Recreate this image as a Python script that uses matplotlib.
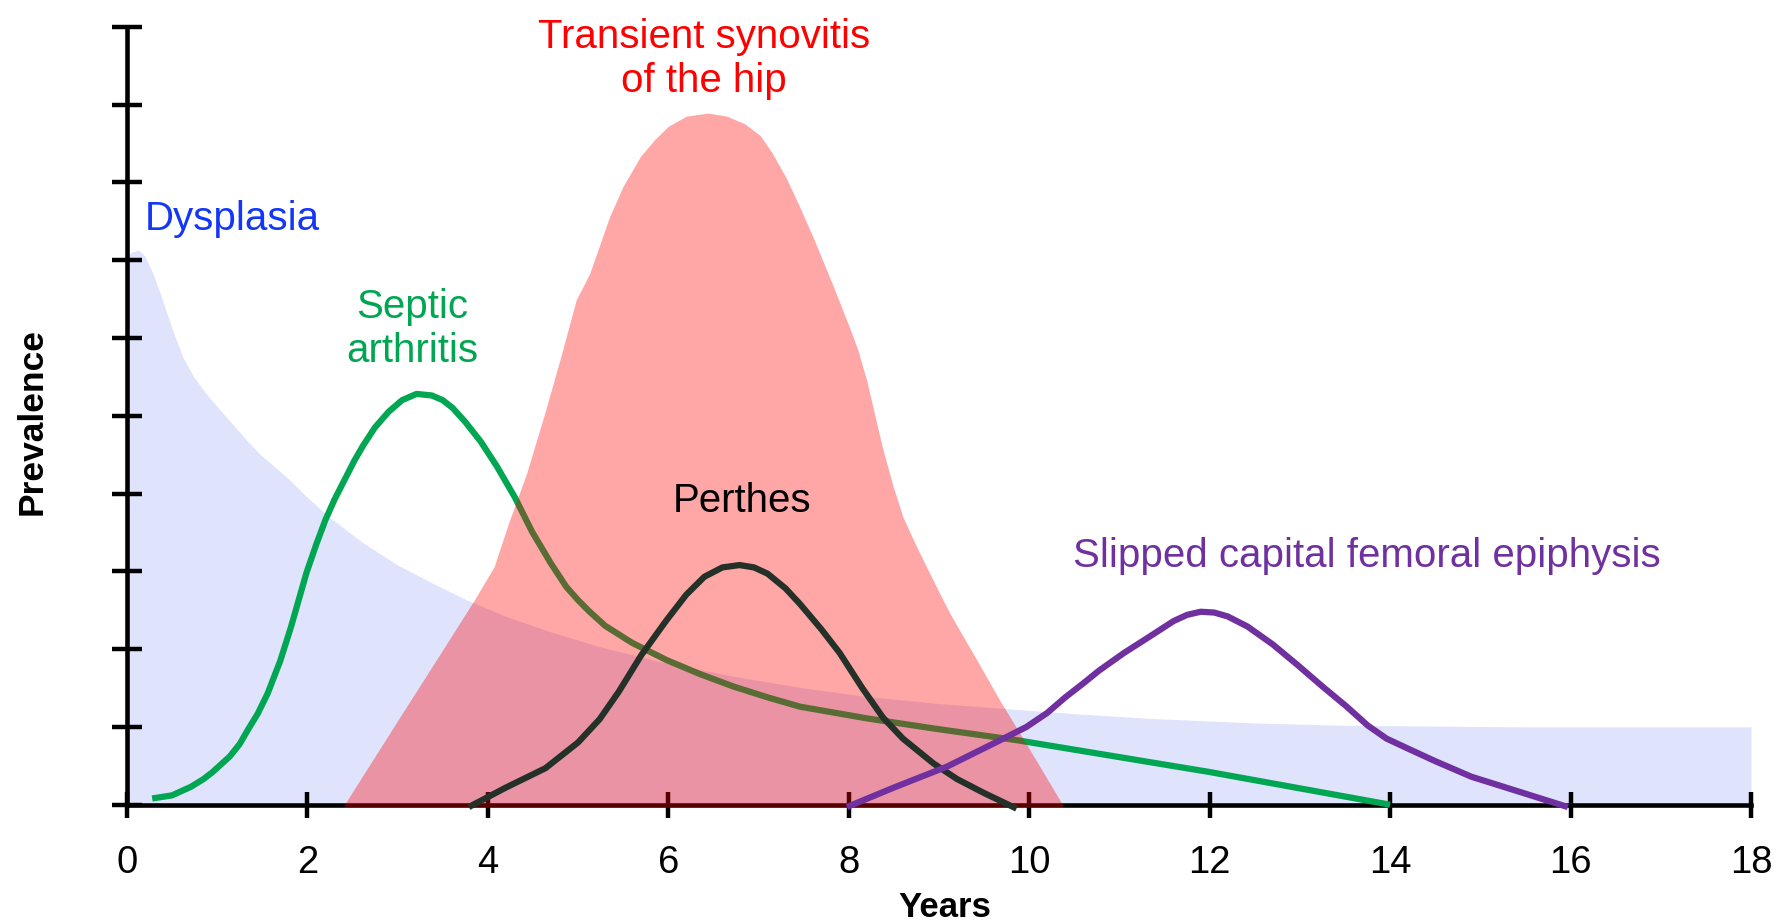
import matplotlib
matplotlib.use("Agg")
import matplotlib.pyplot as plt

plt.rcParams['font.family'] = ['Liberation Sans', 'DejaVu Sans']

# ---------------- data (years vs. relative prevalence, tick units) ----------------
years_ticks = [0, 2, 4, 6, 8, 10, 12, 14, 16, 18]
prev_ticks = list(range(0, 11))

dysplasia_x = [0.0, 0.05, 0.13, 0.2, 0.28, 0.37, 0.5, 0.62, 0.74, 0.9, 1.05, 1.18,
               1.33, 1.48, 1.65, 1.8, 2.0, 2.24, 2.6, 3.0, 3.4, 3.77, 4.2, 4.7,
               5.24, 5.9, 6.72, 7.5, 8.2, 9.0, 9.68, 10.5, 11.32, 12.5, 13.52, 15.5, 18.0]
dysplasia_y = [7.05, 7.1, 7.13, 7.05, 6.85, 6.57, 6.12, 5.75, 5.5, 5.25, 5.05, 4.88,
               4.68, 4.5, 4.33, 4.18, 3.95, 3.7, 3.38, 3.08, 2.84, 2.63, 2.42, 2.22,
               2.03, 1.84, 1.65, 1.5, 1.39, 1.3, 1.24, 1.17, 1.11, 1.05, 1.02, 1.0, 1.0]

septic_x = [0.28, 0.5, 0.71, 0.85, 0.95, 1.14, 1.25, 1.35, 1.45, 1.56, 1.7, 1.82,
            1.99, 2.1, 2.2, 2.3, 2.41, 2.52, 2.62, 2.75, 2.9, 3.05, 3.21, 3.38,
            3.5, 3.61, 3.75, 3.92, 4.1, 4.3, 4.49, 4.7, 4.87, 5.0, 5.12, 5.3,
            5.6, 5.98, 6.35, 6.72, 7.1, 7.46, 8.2, 8.94, 9.86, 12.0, 14.0]
septic_y = [0.08, 0.12, 0.23, 0.33, 0.42, 0.62, 0.78, 0.98, 1.17, 1.43, 1.85, 2.29,
            2.98, 3.35, 3.66, 3.92, 4.17, 4.42, 4.62, 4.85, 5.05, 5.2, 5.28, 5.26,
            5.2, 5.1, 4.92, 4.67, 4.35, 3.95, 3.51, 3.1, 2.8, 2.63, 2.49, 2.3,
            2.08, 1.86, 1.68, 1.52, 1.38, 1.26, 1.11, 0.98, 0.83, 0.42, 0.0]

transient_x = [2.41, 3.0, 3.5, 3.85, 4.07, 4.23, 4.43, 4.62, 4.8, 4.98, 5.13, 5.35,
               5.5, 5.69, 5.85, 6.0, 6.2, 6.44, 6.65, 6.85, 7.02, 7.15, 7.31, 7.45,
               7.61, 7.83, 8.02, 8.1, 8.2, 8.3, 8.38, 8.49, 8.6, 8.75, 8.95, 9.12,
               9.4, 9.67, 10.0, 10.37]
transient_y = [0.0, 1.08, 1.99, 2.63, 3.06, 3.62, 4.26, 4.99, 5.72, 6.49, 6.83, 7.56,
               7.95, 8.33, 8.55, 8.72, 8.85, 8.89, 8.85, 8.75, 8.6, 8.38, 8.05, 7.7,
               7.28, 6.66, 6.1, 5.85, 5.45, 4.95, 4.56, 4.1, 3.7, 3.32, 2.85, 2.46,
               1.9, 1.35, 0.72, 0.0]

perthes_x = [3.79, 4.2, 4.64, 5.0, 5.24, 5.45, 5.7, 5.98, 6.2, 6.4, 6.6, 6.79,
             6.95, 7.1, 7.3, 7.46, 7.7, 7.9, 8.15, 8.38, 8.6, 8.94, 9.2, 9.5, 9.86]
perthes_y = [-0.03, 0.22, 0.47, 0.8, 1.1, 1.45, 1.92, 2.37, 2.7, 2.93, 3.05, 3.08,
             3.05, 2.97, 2.78, 2.58, 2.25, 1.95, 1.5, 1.12, 0.85, 0.53, 0.33, 0.15, -0.05]

scfe_x = [7.98, 8.5, 9.09, 9.68, 9.97, 10.2, 10.4, 10.6, 10.77, 11.05, 11.32, 11.6,
          11.75, 11.9, 12.05, 12.2, 12.42, 12.7, 12.97, 13.25, 13.52, 13.75, 13.96,
          14.2, 14.5, 14.9, 15.45, 15.97]
scfe_y = [-0.03, 0.22, 0.49, 0.83, 1.0, 1.18, 1.38, 1.56, 1.72, 1.95, 2.15, 2.36,
          2.44, 2.48, 2.47, 2.42, 2.29, 2.06, 1.8, 1.52, 1.26, 1.02, 0.85,
          0.72, 0.56, 0.36, 0.16, -0.03]

labels = {
    'dysplasia': 'Dysplasia',
    'septic': 'Septic\narthritis',
    'transient': 'Transient synovitis\nof the hip',
    'perthes': 'Perthes',
    'scfe': 'Slipped capital femoral epiphysis',
}

# ---------------- figure ----------------
W, H = 1776, 922
fig = plt.figure(figsize=(W / 100, H / 100), dpi=100)
x0, x1 = 126.9, 1751.0
y0, y1 = 804.7, 26.7
ax = fig.add_axes([x0 / W, (H - y0) / H, (x1 - x0) / W, (y0 - y1) / H])
ax.set_xlim(0, 18)
ax.set_ylim(0, 10)

for s in ('top', 'right'):
    ax.spines[s].set_visible(False)
for s in ('left', 'bottom'):
    ax.spines[s].set_linewidth(3.3)
    ax.spines[s].set_color('black')

ax.set_xticks(years_ticks)
ax.set_xticklabels([str(t) for t in years_ticks])
ax.set_yticks(prev_ticks)
ax.set_yticklabels([])
ax.tick_params(axis='x', direction='inout', length=18.7, width=3.2, labelsize=27.5,
               pad=20, colors='black')
ax.tick_params(axis='y', direction='inout', length=22.3, width=3.2, colors='black')

lw = 4.5
# Dysplasia (blue fill)
ax.fill_between(dysplasia_x, dysplasia_y, 0, color='#dfe3fc', lw=0, zorder=1)
# Septic arthritis (green line, below red fill)
ax.plot(septic_x, septic_y, color='#00a651', lw=lw, zorder=2.6, clip_on=False,
        solid_capstyle='butt', solid_joinstyle='round')
# Transient synovitis (translucent red fill)
ax.fill_between(transient_x, transient_y, -0.035, color='#ff0000', alpha=0.35, lw=0,
                zorder=3, clip_on=False)
# Perthes
ax.plot(perthes_x, perthes_y, color='#243128', lw=lw, zorder=4, clip_on=False,
        solid_capstyle='butt', solid_joinstyle='round')
# SCFE
ax.plot(scfe_x, scfe_y, color='#7030a0', lw=lw, zorder=4, clip_on=False,
        solid_capstyle='butt', solid_joinstyle='round')

fs = 29
ax.text(0.2, 7.39, labels['dysplasia'], color='#1437f7', fontsize=fs,
        ha='left', va='baseline', zorder=5)
ax.text(3.16, 5.69, labels['septic'], color='#00a651', fontsize=fs,
        ha='center', va='baseline', multialignment='center', zorder=5)
ax.text(6.4, 9.16, labels['transient'], color='#ff0000', fontsize=fs,
        ha='center', va='baseline', multialignment='center', zorder=5)
ax.text(6.82, 3.76, labels['perthes'], color='black', fontsize=fs,
        ha='center', va='baseline', zorder=5)
ax.text(13.74, 3.06, labels['scfe'], color='#7030a0', fontsize=fs,
        ha='center', va='baseline', zorder=5)

ax.set_xlabel('Years', fontsize=25, fontweight='bold', va='baseline')
ax.xaxis.set_label_coords((944.5 - x0) / (x1 - x0), -(917 - y0) / (y0 - y1))
ax.set_ylabel('Prevalence', fontsize=25.5, fontweight='bold', va='center')
ax.yaxis.set_label_coords((32 - x0) / (x1 - x0), (y0 - 421.5) / (y0 - y1))

fig.savefig('out.png', dpi=100)
